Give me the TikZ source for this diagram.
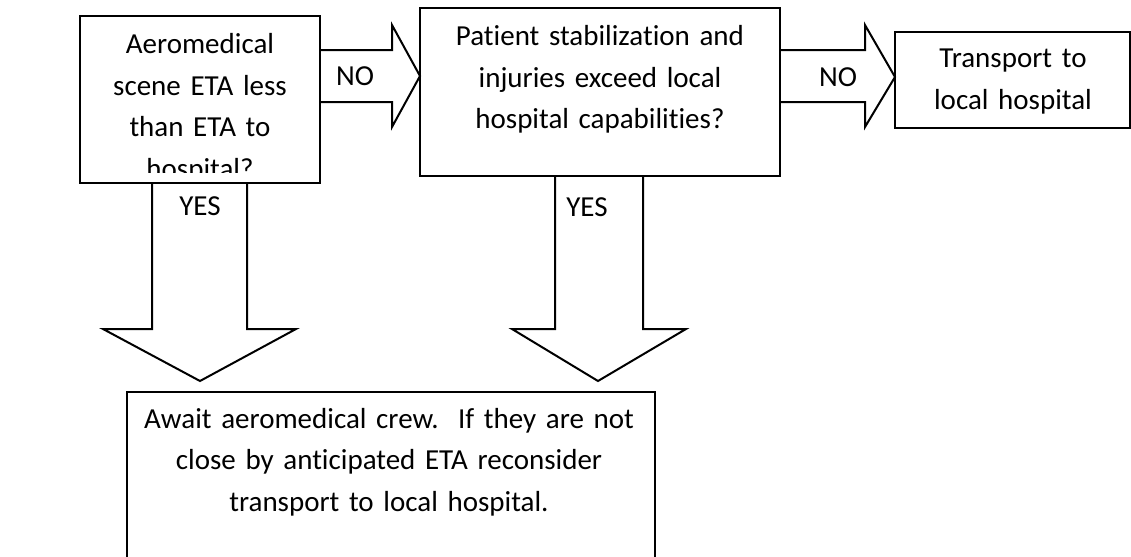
\documentclass[tikz,border=0pt]{standalone}
\usepackage{fontspec}
\setmainfont{Carlito}[Ligatures=NoCommon]
\frenchspacing
\usetikzlibrary{calc}
\newcommand\boxfont{\fontsize{14.5pt}{20.75pt}\selectfont\spaceskip=0.75\fontdimen2\font\relax}
\tikzset{
  box/.style={draw, line width=1pt, inner sep=0pt, outer sep=0pt},
  boxtext/.style={anchor=base, align=center, inner sep=0pt},
  fat/.style={draw, line width=1pt},
}
\begin{document}
\begin{tikzpicture}[x=0.5pt, y=-0.5pt, font=\boxfont]
\useasboundingbox (0,0) rectangle (1131,557);
\clip (0,0) rectangle (1131,557);
% boxes
\node[box, minimum width=120pt, minimum height=83.5pt] (aero) at (200,99.5) {};
\node[box, minimum width=180pt, minimum height=84pt] (stab) at (600,92) {};
\node[box, minimum width=117.5pt, minimum height=48pt] (local) at (1012.5,80) {};
\node[box, minimum width=264pt, minimum height=104pt] (await) at (391,496) {};

\begin{scope}
\clip (aero.north west) rectangle ([yshift=5.5pt]aero.south east);
\node[boxtext, text width=115pt] (aerotxt) at (200,54) {Aeromedical\\ scene ETA less\\ than ETA to\\ hospital?};
\end{scope}
\node[boxtext, text width=175pt] (stabtxt) at (600,46) {Patient stabilization and\\ injuries exceed local\\ hospital capabilities?};
\node[boxtext, text width=115pt] (localtxt) at (1013,68) {Transport to\\ local hospital};
\node[boxtext, text width=260pt] (awaittxt) at (389,428) {Await aeromedical crew.\ \ If they are not\\ close by anticipated ETA reconsider\\ transport to local hospital.};

% NO arrows
\draw[fat] (aero.east |- 0,50) -- (392,50) -- (392,25) -- (stab.west |- 0,76) -- (392,127) -- (392,102) -- (aero.east |- 0,102);
\draw[fat] (stab.east |- 0,50) -- (865,50) -- (865,25) -- (local.west |- 0,77) -- (865,127) -- (865,102) -- (stab.east |- 0,102);
\node (no1) at (355,76) {NO};
\node (no2) at (838,77) {NO};

% YES arrows
\draw[fat] (152,0 |- aero.south) -- (152,329) -- (103,329) -- ($(200,0 |- await.north)+(0,-11)$) -- (296,329) -- (247,329) -- (247,0 |- aero.south);
\draw[fat] (555,0 |- stab.south) -- (555,329) -- (512,329) -- ($(598,0 |- await.north)+(0,-11)$) -- (686,329) -- (643,329) -- (643,0 |- stab.south);
\node (yes1) at (200,206) {YES};
\node (yes2) at (587,207) {YES};
\end{tikzpicture}
\end{document}
